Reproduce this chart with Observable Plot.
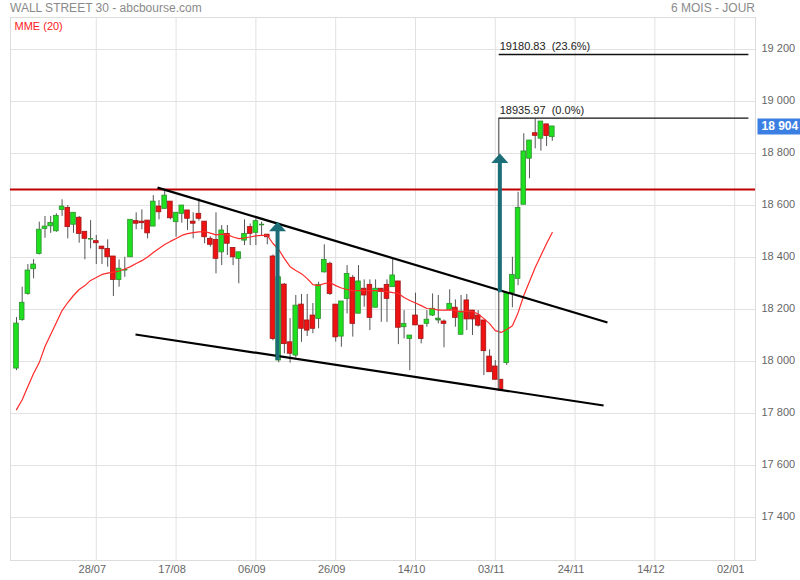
<!DOCTYPE html>
<html><head><meta charset="utf-8">
<script src="https://cdn.jsdelivr.net/npm/d3@7"></script>
<script src="https://cdn.jsdelivr.net/npm/@observablehq/plot@0.6"></script>
<style>
body{margin:0;background:#fff;font-family:"Liberation Sans",Arial,sans-serif;}
#wrap{width:800px;height:580px;position:relative;overflow:hidden;}
#hdr{height:16px;position:relative;font-size:12px;color:#8a8a8a;}
#title{position:absolute;left:10px;top:1px;}
#period{position:absolute;right:45px;top:1px;}
</style></head>
<body><div id="wrap"><div id="hdr"><span id="title">WALL STREET 30 - abcbourse.com</span><span id="period">6 MOIS - JOUR</span></div><div id="chart"></div></div>
<script>
// Daily candles (trading-day index 0 = 08/07)
const openV  = [17973,18160,18260,18355,18414,18510,18520,18501,18583,18591,18526,18553,18499,18472,18463,18442,18433,18404,18314,18353,18401,18540,18538,18542,18519,18596,18587,18615,18536,18568,18581,18538,18568,18538,18472,18468,18420,18491,18437,18395,18465,18517,18495,18527,18488,18404,18004,18296,18074,18023,18219,18158,18177,18164,18343,18376,18219,18096,18241,18322,18184,18280,18295,18207,18280,18295,18286,18308,18132,18087,18177,18138,18145,18177,18161,18154,18199,18207,18103,18235,18196,18177,18158,18019,17981,17930,17994,18263,18318,18603,18780,18878,18857,18912,18863];
const highV  = [18169,18286,18373,18392,18536,18558,18558,18568,18622,18600,18572,18558,18499,18542,18485,18442,18468,18404,18391,18401,18545,18572,18583,18542,18638,18619,18658,18615,18572,18600,18581,18572,18626,18538,18480,18572,18523,18523,18437,18420,18545,18529,18549,18536,18488,18410,18330,18300,18165,18254,18258,18258,18223,18305,18449,18382,18219,18231,18369,18331,18369,18314,18314,18314,18280,18314,18395,18308,18196,18100,18263,18138,18196,18260,18254,18160,18276,18237,18254,18258,18196,18196,18158,18045,18004,17930,18263,18401,18651,18876,18850,18933,18923,18912,18904];
const lowV   = [17965,18155,18255,18318,18410,18474,18493,18497,18558,18472,18493,18455,18391,18433,18373,18373,18363,18250,18286,18324,18401,18507,18507,18472,18519,18545,18587,18545,18478,18532,18504,18472,18540,18453,18440,18337,18369,18408,18369,18299,18446,18446,18446,18485,18449,18080,17995,18030,17994,18014,18074,18096,18107,18126,18340,18254,18075,18055,18183,18094,18184,18209,18119,18207,18151,18151,18286,18065,18087,17965,18139,18068,18132,18173,18145,18053,18199,18132,18103,18119,18100,18132,17946,17959,17930,17886,17985,18207,18292,18603,18703,18818,18809,18827,18847];
const closeV = [18146,18226,18350,18373,18507,18519,18533,18560,18596,18517,18572,18491,18472,18472,18455,18432,18401,18314,18357,18353,18545,18530,18532,18493,18615,18574,18638,18551,18572,18600,18549,18530,18549,18478,18449,18395,18504,18453,18401,18420,18491,18491,18540,18527,18478,18087,18324,18067,18030,18215,18126,18119,18126,18295,18391,18260,18093,18231,18337,18145,18308,18254,18168,18280,18267,18241,18331,18130,18145,18100,18139,18087,18161,18203,18165,18145,18222,18168,18192,18162,18162,18138,18040,17959,17930,17888,18263,18333,18591,18808,18850,18868,18923,18867,18904];
// MME (20) moving average line
const mmeV = [17815,17853,17904,17954,17996,18058,18104,18150,18196,18227,18254,18277,18292,18312,18323,18335,18340,18344,18348,18356,18365,18377,18388,18402,18419,18435,18450,18462,18473,18485,18492,18496,18499,18500,18494,18487,18490,18488,18479,18473,18475,18479,18483,18485,18485,18454,18431,18396,18365,18350,18338,18319,18296,18292,18300,18304,18292,18283,18277,18273,18273,18273,18273,18273,18271,18269,18265,18262,18246,18235,18225,18215,18204,18203,18198,18198,18199,18196,18191,18194,18192,18183,18165,18146,18119,18112,18123,18138,18188,18254,18308,18362,18408,18454,18496];

// Axes
const tickIdx    = [14,28,42,56,70,84,98,112,126];
const tickLabels = ["28/07","17/08","06/09","26/09","14/10","03/11","24/11","14/12","02/01"];
const yTicks     = [17400,17600,17800,18000,18200,18400,18600,18800,19000,19200];

// Drawings
const resistance = [18662];
const trendUpper = {x1: 24.74, y1: 18669, x2: 103.68, y2: 18150};
const trendLower = {x1: 20.88, y1: 18104, x2: 103.0,  y2: 17831};
const arrowsIdx  = [45.8, 84.8];
const arrowsFrom = [18004, 18265];
const arrowsTip  = [18538, 18800];
const fibLevels  = [19180.83, 18935.97];
const fibLabels  = ["19180.83\u00a0\u00a0(23.6%)", "18935.97\u00a0\u00a0(0.0%)"];
const fibStart = 84.6, fibEnd = 128.4, fibLow = 17886;
const lastPrice = 18904;

const candles = openV.map((o, i) => ({i, o, h: highV[i], l: lowV[i], c: closeV[i], up: closeV[i] >= o}));
const dojis = candles.filter(d => Math.abs(d.o - d.c) < 5);
const mme = mmeV.map((v, i) => ({i, v}));
const arrows = arrowsIdx.map((x, k) => ({x, from: arrowsFrom[k], tip: arrowsTip[k]}));
const fibs = fibLevels.map((v, k) => ({v, label: fibLabels[k]}));
const fmt = v => d3.format(",")(v).replace(/,/g, " ");

const headSymbol = {draw(ctx) { ctx.moveTo(0, 0); ctx.lineTo(8.5, 9.5); ctx.lineTo(-8.5, 9.5); ctx.closePath(); }};
const boxSymbol  = {draw(ctx) { ctx.rect(0, -8, 46, 16); }};
const teal = "#1b6e77";

const plot = Plot.plot({
  width: 800, height: 564,
  marginTop: 1, marginBottom: 20, marginLeft: 10, marginRight: 45,
  x: {domain: [-1.05, 129.65]},
  y: {domain: [17235, 19323]},
  color: {type: "identity"},
  style: {fontFamily: "'Liberation Sans', Arial, sans-serif", fontSize: "11px", color: "#666", background: "#fff", overflow: "visible"},
  marks: [
    Plot.gridY(yTicks, {stroke: "#e2e2e2", strokeOpacity: 1}),
    Plot.gridX(tickIdx, {stroke: "#e2e2e2", strokeOpacity: 1}),
    Plot.frame({stroke: "#dcdcdc"}),
    Plot.axisY(yTicks, {anchor: "right", tickSize: 0, tickPadding: 6, tickFormat: fmt, dy: -1}),
    Plot.axisX(tickIdx, {anchor: "bottom", tickSize: 0, tickPadding: 5, dx: -4, tickFormat: d => tickLabels[tickIdx.indexOf(d)]}),
    Plot.text(["MME (20)"], {frameAnchor: "top-left", dx: 4, dy: 5, lineAnchor: "top", textAnchor: "start", fill: "#ff2020", fontSize: 11}),
    Plot.ruleY(resistance, {stroke: "#c00000", strokeWidth: 2}),
    Plot.ruleX(candles, {x: "i", y1: "l", y2: "h", stroke: "#555", strokeWidth: 1}),
    Plot.rect(candles, {x1: d => d.i - 0.41, x2: d => d.i + 0.41, y1: "o", y2: "c",
      fill: d => d.up ? "#1ee01e" : "#ee1212", stroke: d => d.up ? "#2f8f2f" : "#a01515", strokeWidth: 0.8}),
    Plot.link(dojis, {x1: d => d.i - 0.45, x2: d => d.i + 0.45, y1: "o", y2: "o", stroke: d => d.up ? "#2f8f2f" : "#c01515", strokeWidth: 1.5}),
    Plot.line(mme, {x: "i", y: "v", stroke: "#ff2a2a", strokeWidth: 1.2}),
    Plot.ruleX([fibStart], {y1: fibLow, y2: fibLevels[1], stroke: "#777", strokeWidth: 1.5}),
    Plot.link(fibs, {x1: () => fibStart, x2: () => fibEnd, y1: "v", y2: "v", stroke: "#111", strokeWidth: 1.4}),
    Plot.text(fibs, {x: () => fibStart, y: "v", text: "label", dx: 1, dy: -8, textAnchor: "start", fill: "#222", fontSize: 11}),
    Plot.link([trendUpper, trendLower], {x1: "x1", y1: "y1", x2: "x2", y2: "y2", stroke: "#000", strokeWidth: 2.2}),
    Plot.ruleX(arrows, {x: "x", y1: "from", y2: d => d.tip - 30, stroke: teal, strokeWidth: 4}),
    Plot.dot(arrows, {x: "x", y: "tip", symbol: headSymbol, fill: teal, stroke: "none"}),
    Plot.dot([lastPrice], {y: d => d, frameAnchor: "right", dx: 2, symbol: boxSymbol, fill: "#3c7fe3", stroke: "none"}),
    Plot.text([lastPrice], {y: d => d, frameAnchor: "right", dx: 6, textAnchor: "start", text: d => fmt(d), fill: "#fff", fontWeight: "bold", fontSize: 12})
  ]
});
document.getElementById("chart").appendChild(plot);
</script>
</body></html>
